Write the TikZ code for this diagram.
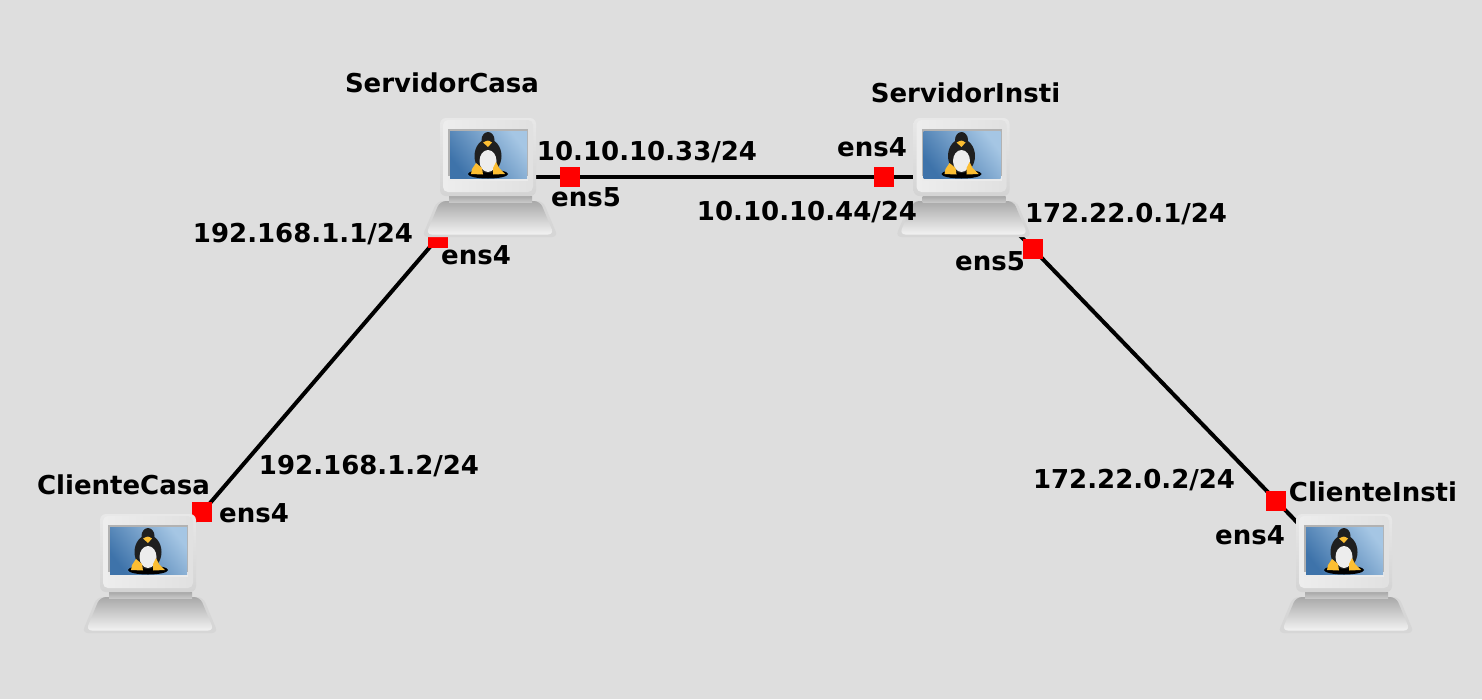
\documentclass[tikz,border=0pt]{standalone}
\usepackage{fontspec}
\setmainfont{DejaVu Sans}
\definecolor{bgc}{HTML}{DEDEDE}
\definecolor{rd}{HTML}{FF0000}
\definecolor{scrdark}{RGB}{62,115,170}
\definecolor{scrlight}{RGB}{165,198,228}
\definecolor{footc}{RGB}{252,190,50}
\tikzset{
  lbl/.style={font=\bfseries\fontsize{26}{30}\selectfont,inner sep=0pt,anchor=base,text=black},
  iface/.style={fill=rd,draw=none,minimum size=20pt,inner sep=0pt,shape=rectangle},
  link/.style={draw=black,line width=4pt},
  computer/.pic={
    % base
    \fill[white!84!black,rounded corners=6pt] (-53,24) -- (53,24) -- (68,60) -- (-68,60) -- cycle;
    \shade[top color=black!34,bottom color=black!5,rounded corners=6pt] (-50,24) -- (50,24) -- (64,57.5) -- (-64,57.5) -- cycle;
    % neck
    \shade[top color=black!34,bottom color=black!22] (-41,19) rectangle (42,25);
    % monitor
    \shade[top color=black!9,bottom color=black!17,rounded corners=6pt] (-50,-59) rectangle (46,19);
    \shade[left color=black!7,right color=black!12,rounded corners=5pt] (-47,-57) rectangle (43,15);
    % screen frame
    \fill[black!30] (-42,-48) rectangle (38,-1);
    \fill[white!92!black] (-42,-1) rectangle (38,3.5);
    % screen
    \shade[top color=scrlight,bottom color=scrdark,shading angle=-52] (-40,-46) rectangle (37,1);
    % penguin
    \fill[black] (-2,-3) ellipse [x radius=20,y radius=4.5];
    \fill[black!88] (-2,-21) ellipse [x radius=13.5,y radius=17];
    \fill[black!88] (-2,-37) ellipse [x radius=6.5,y radius=8];
    \fill[white!93!black] (-2,-16) ellipse [x radius=8.5,y radius=11];
    \fill[footc] (-7,-34.5) .. controls (-2,-37) .. (2,-34.5) -- (-2,-30) -- cycle;
    \fill[footc] (-14,-14) -- (-8,-9) -- (-7,-2.5) -- (-19,-3) -- (-18,-8) -- cycle;
    \fill[footc] (6,-15) -- (9,-9) -- (15,-3) -- (3,-2.5) -- (3,-9) -- cycle;
  }
}
\begin{document}
\begin{tikzpicture}[x=1pt,y=-1pt]
\useasboundingbox (0,0) rectangle (1482,699);
\fill[bgc] (0,0) rectangle (1482,699);
\coordinate (sc) at (490,177);
\coordinate (si) at (963.5,177);
\coordinate (cc) at (150,573);
\coordinate (ci) at (1346,573);
\draw[link] (sc) -- (si);
\draw[link] (sc) -- (cc);
\draw[link] (si) -- (ci);
\node[iface] (i1) at (570,177) {};
\node[iface] (i2) at (883.5,177) {};
\node[iface] (i3) at (438,237.5) {};
\node[iface] (i4) at (1033,249) {};
\node[iface] (i5) at (202,512) {};
\node[iface] (i6) at (1276,501) {};
\pic at (sc) {computer};
\pic at (si) {computer};
\pic at (cc) {computer};
\pic at (ci) {computer};
\node[lbl] (t1) at (442,92) {ServidorCasa};
\node[lbl] (t2) at (965.5,102) {ServidorInsti};
\node[lbl] (t3) at (123.5,494) {ClienteCasa};
\node[lbl] (t4) at (1373,501) {ClienteInsti};
\node[lbl] (t5) at (647,160) {10.10.10.33/24};
\node[lbl] (t6) at (586,206) {ens5};
\node[lbl] (t7) at (872,156) {ens4};
\node[lbl] (t8) at (807,220) {10.10.10.44/24};
\node[lbl] (t9) at (1126,222) {172.22.0.1/24};
\node[lbl] (t10) at (990,270) {ens5};
\node[lbl] (t11) at (303,242) {192.168.1.1/24};
\node[lbl] (t12) at (476,264) {ens4};
\node[lbl] (t13) at (369,474) {192.168.1.2/24};
\node[lbl] (t14) at (254,522) {ens4};
\node[lbl] (t15) at (1134,488) {172.22.0.2/24};
\node[lbl] (t16) at (1250,544) {ens4};
\end{tikzpicture}
\end{document}
